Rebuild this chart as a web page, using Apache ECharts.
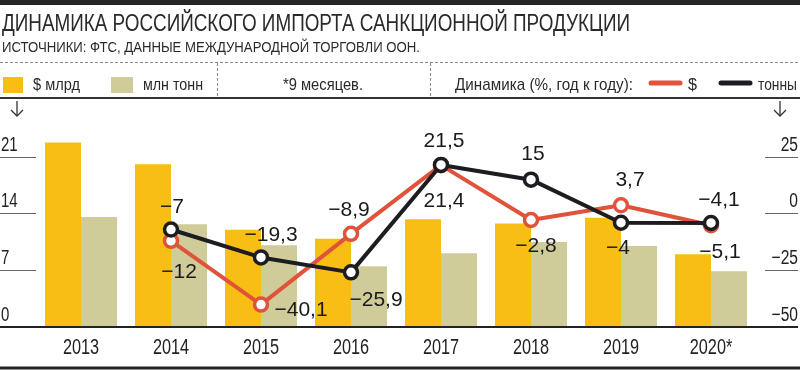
<!DOCTYPE html>
<html><head><meta charset="utf-8">
<script src="https://cdn.jsdelivr.net/npm/echarts@6/dist/echarts.min.js"></script>
<style>html,body{margin:0;padding:0;background:#fff}#c{width:800px;height:370px}</style>
</head><body><div id="c"></div>
<script>
// ---- data ----
const years = ['2013', '2014', '2015', '2016', '2017', '2018', '2019', '2020*'];
const usdBn = [22.8, 20.1, 12.0, 10.9, 13.3, 12.8, 13.5, 9.0];
const mlnTonnes = [13.6, 12.7, 10.1, 7.5, 9.1, 10.5, 10.0, 6.9];
const usdChange = [null, -12, -40.1, -8.9, 21.4, -2.8, 3.7, -5.1];
const tonnesChange = [null, -7, -19.3, -25.9, 21.5, 15, -4, -4.1];
const leftTicks = [0, 7, 14, 21];
const rightTicks = [-50, -25, 0, 25];

// ---- label placement (style, offsets from point centre) ----
const usdLabelOffset = [null, [8, 31], [40, 6], [-2, -24], [3, 36], [5, 26], [9, -25], [9, 27]];
const tonLabelOffset = [null, [1, -22], [10, -22], [25, 28], [3, -24], [2, -25], [-3, 25], [8, -23]];

const RED = '#E0533A', BLACK = '#1d1d21', YEL = '#F9BE14', GRN = '#CFCC99';
const FONT = '"Liberation Sans", Arial, sans-serif';

const cvs = document.createElement('canvas').getContext('2d');
function measure(str, font) { cvs.font = font; return cvs.measureText(str).width; }

function txt(str, x, y, size, w, color) {
  const m = measure(str, size + 'px "Liberation Sans"');
  return { type: 'text', x: x, y: y, scaleX: w / m, silent: true, z: 50,
    style: { text: str, fontSize: size, fontFamily: FONT, fill: color, textAlign: 'left', verticalAlign: 'middle' } };
}
function ctxt(str, x, y, size, sx, align, valign, color) {
  return { type: 'text', x: x, y: y, scaleX: sx, silent: true, z: 50,
    style: { text: str, fontSize: size, fontFamily: FONT, fill: color, textAlign: align, verticalAlign: valign } };
}
function ln(x1, y1, x2, y2, color, width, dash) {
  return { type: 'line', silent: true, z: 50, shape: { x1, y1, x2, y2 },
    style: { stroke: color, lineWidth: width, lineDash: dash || null, lineCap: 'butt' } };
}
function fmt(v) {
  const s = String(Math.abs(v)).replace('.', ',');
  return v < 0 ? '\u2212' + s : s;
}
function lineData(vals, offs) {
  return vals.map((v, i) => v == null ? null : { value: v, label: { offset: offs[i] } });
}

const W = 800, H = 370;
const gridL = 36, gridR = 44, gridT = 157, gridB = 43;
const baseY = H - gridB;

const graphic = [
  { type: 'rect', silent: true, shape: { x: 0, y: 0, width: W, height: 5 }, style: { fill: '#262626' } },
  txt('ДИНАМИКА РОССИЙСКОГО ИМПОРТА САНКЦИОННОЙ ПРОДУКЦИИ', 2, 24, 24, 628, '#2a2a2a'),
  txt('ИСТОЧНИКИ: ФТС, ДАННЫЕ МЕЖДУНАРОДНОЙ ТОРГОВЛИ ООН.', 2, 48, 15, 418, '#2a2a2a'),
  ln(0, 62.5, W, 62.5, '#8a8a8a', 1, [3, 2]),
  ln(217.5, 63, 217.5, 97, '#8a8a8a', 1, [3, 2]),
  ln(430.5, 63, 430.5, 97, '#8a8a8a', 1, [3, 2]),
  ln(0, 98, W, 98, '#333', 2),
  { type: 'rect', silent: true, shape: { x: 3, y: 77, width: 20, height: 16 }, style: { fill: YEL } },
  txt('$ млрд', 33, 85, 17, 47, '#2a2a2a'),
  { type: 'rect', silent: true, shape: { x: 111, y: 77, width: 22, height: 16 }, style: { fill: GRN } },
  txt('млн тонн', 143, 85, 17, 60, '#2a2a2a'),
  txt('*9 месяцев.', 283, 85, 17, 80, '#2a2a2a'),
  txt('Динамика (%, год к году):', 455, 85, 17, 178, '#2a2a2a'),
  { type: 'line', silent: true, shape: { x1: 651, y1: 83, x2: 680, y2: 83 }, style: { stroke: RED, lineWidth: 5, lineCap: 'round' } },
  txt('$', 688, 85, 17, 9, '#2a2a2a'),
  { type: 'line', silent: true, shape: { x1: 721, y1: 83, x2: 750, y2: 83 }, style: { stroke: BLACK, lineWidth: 5, lineCap: 'round' } },
  txt('тонны', 758, 85, 17, 39, '#2a2a2a'),
  // arrows above axes
  { type: 'polyline', silent: true, shape: { points: [[17, 101], [17, 116]] }, style: { stroke: '#333', lineWidth: 1.3, fill: null } },
  { type: 'polyline', silent: true, shape: { points: [[11, 110], [17, 116], [23, 110]] }, style: { stroke: '#333', lineWidth: 1.3, fill: null } },
  { type: 'polyline', silent: true, shape: { points: [[780, 101], [780, 116]] }, style: { stroke: '#333', lineWidth: 1.3, fill: null } },
  { type: 'polyline', silent: true, shape: { points: [[774, 110], [780, 116], [786, 110]] }, style: { stroke: '#333', lineWidth: 1.3, fill: null } },
  ln(0, baseY, W - 2, baseY, '#222', 2),
  ln(0, 368, W, 368, '#222', 3)
];

const chart = echarts.init(document.getElementById('c'), null, { renderer: 'canvas' });
chart.setOption({
  animation: false,
  backgroundColor: '#fff',
  graphic: graphic,
  grid: { left: gridL, right: gridR, top: gridT, bottom: gridB, containLabel: false },
  xAxis: {
    type: 'category', data: years,
    axisLine: { show: true, lineStyle: { color: '#222', width: 2 } },
    axisTick: { show: false },
    axisLabel: { show: false }
  },
  yAxis: [{
    type: 'value', min: leftTicks[0], max: leftTicks[leftTicks.length - 1], interval: leftTicks[1] - leftTicks[0],
    axisLine: { show: false }, splitLine: { show: false },
    axisTick: { show: true, length: 36, lineStyle: { color: '#666', width: 1 } },
    axisLabel: { show: false }
  }, {
    type: 'value', position: 'right', offset: 9,
    min: rightTicks[0], max: rightTicks[rightTicks.length - 1], interval: rightTicks[1] - rightTicks[0],
    axisLine: { show: false }, splitLine: { show: false },
    axisTick: { show: true, length: 33, lineStyle: { color: '#666', width: 1 } },
    axisLabel: { show: false }
  }],
  series: [{
    type: 'bar', name: '$ млрд', data: usdBn, yAxisIndex: 0, barWidth: 36, barGap: '0%', clip: false,
    itemStyle: { color: YEL }, emphasis: { disabled: true }, z: 2
  }, {
    type: 'bar', name: 'млн тонн', data: mlnTonnes, yAxisIndex: 0, barWidth: 36, barGap: '0%', clip: false,
    itemStyle: { color: GRN }, emphasis: { disabled: true }, z: 2
  }, {
    type: 'line', name: '$', data: lineData(usdChange, usdLabelOffset), yAxisIndex: 1, z: 4,
    symbol: 'circle', symbolSize: 13,
    lineStyle: { color: RED, width: 4 }, itemStyle: { color: '#fff', borderColor: RED, borderWidth: 3.5 },
    label: { show: true, position: 'inside', fontSize: 21, fontFamily: FONT, color: '#1a1a1a', formatter: p => fmt(p.value) },
    emphasis: { disabled: true }
  }, {
    type: 'line', name: 'тонны', data: lineData(tonnesChange, tonLabelOffset), yAxisIndex: 1, z: 5,
    symbol: 'circle', symbolSize: 13,
    lineStyle: { color: BLACK, width: 4 }, itemStyle: { color: '#fff', borderColor: BLACK, borderWidth: 3.5 },
    label: { show: true, position: 'inside', fontSize: 21, fontFamily: FONT, color: '#1a1a1a', formatter: p => fmt(p.value) },
    emphasis: { disabled: true }
  }]
});

// condensed axis labels, placed through the chart's own axes
const axisTexts = [];
years.forEach(y => {
  const px = chart.convertToPixel({ xAxisIndex: 0 }, y);
  axisTexts.push(ctxt(y, px, baseY + 21, 22, 0.74, 'center', 'middle', '#222'));
});
leftTicks.forEach(v => {
  const py = chart.convertToPixel({ yAxisIndex: 0 }, v);
  axisTexts.push(ctxt(fmt(v), 1, py - 2, 20, 0.75, 'left', 'bottom', '#222'));
});
rightTicks.forEach(v => {
  const py = chart.convertToPixel({ yAxisIndex: 1 }, v);
  axisTexts.push(ctxt(fmt(v), W - 2, py - 2, 20, 0.78, 'right', 'bottom', '#222'));
});
chart.setOption({ graphic: graphic.concat(axisTexts) });
</script>
</body></html>
